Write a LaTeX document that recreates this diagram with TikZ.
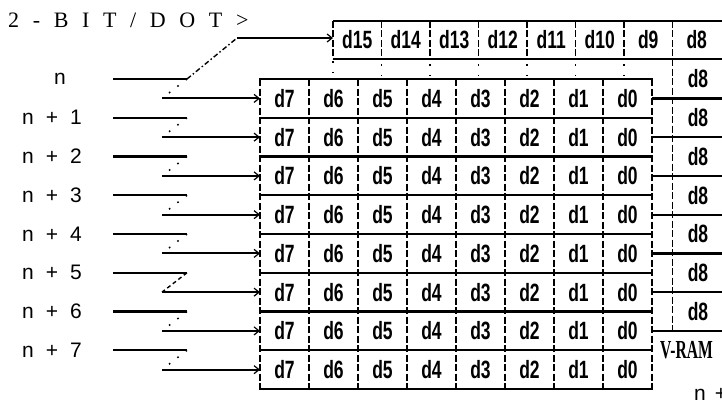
\documentclass[tikz,border=0pt]{standalone}
\usepackage{fontspec}
\setmainfont{Liberation Sans}
\newfontfamily\cellfont[FakeStretch=0.7]{Liberation Sans}
\newfontfamily\titlefont[LetterSpace=62]{Liberation Serif}
\newfontfamily\vramfont[FakeStretch=0.6]{Liberation Serif}
\usetikzlibrary{arrows.meta}
\begin{document}
\begin{tikzpicture}[x=1pt,y=-1pt,
  hline/.style={line width=2.2pt},
  divline/.style={line width=1.3pt, dash pattern=on 7pt off 2.5pt},
  conn/.style={line width=2.2pt},
  arr/.style={line width=2pt,-{Straight Barb[length=5pt,width=8pt,line width=1.2pt]}},
  diag/.style={line width=1.5pt, dash pattern=on 1.6pt off 9pt},
  diagvis/.style={line width=1.4pt, dash pattern=on 4pt off 3pt},
  cell/.style={font=\cellfont\bfseries\fontsize{25}{25}\selectfont, inner sep=0pt},
  lbl/.style={font=\fontsize{21}{21}\selectfont, inner sep=0pt},
]
\useasboundingbox (0,0) rectangle (722,404);
\clip (0,0) rectangle (722,404);

% title
\node[font=\titlefont\fontsize{22}{22}\selectfont, anchor=west, inner sep=0pt] (title) at (8,20) {2-BIT/DOT>};

% ---- upper box d15 .. d8
\draw[hline] (333,21) -- (722,21);
\draw[hline] (333,59) -- (722,59);
\draw[divline] (333,21) -- (333,59);
\draw[diag] (333,61) -- (333,79);
\foreach \i in {1,...,6} {
  \draw[divline] (333+48.5*\i,21) -- (333+48.5*\i,59);
  \draw[diag] (333+48.5*\i,64) -- (333+48.5*\i,76);
}
\draw[divline] (672.5,21) -- (672.5,331);
\foreach \c in {0,...,7} {
  \pgfmathtruncatemacro\b{15-\c}
  \node[cell] (top\c) at (357.25+48.5*\c,40) {d\b};
}

% ---- main table
\foreach \r in {0,...,8} {
  \draw[hline] (259,79+38.75*\r) -- (653,79+38.75*\r);
}
\draw[divline] (260,79) -- (260,389);
\draw[divline] (652,79) -- (652,389);
\foreach \c in {1,...,7} {
  \draw[divline] (260+49*\c,79) -- (260+49*\c,389);
}
\foreach \r in {0,...,7} {
  \foreach \c in {0,...,7} {
    \pgfmathtruncatemacro\b{7-\c}
    \node[cell] (cell\r-\c) at (284.5+49*\c,98.4+38.75*\r) {d\b};
  }
}

% ---- right column d8
\foreach \r in {0,...,6} {
  \draw[hline] (652,98.4+38.75*\r) -- (722,98.4+38.75*\r);
}
\node[cell] (rd0) at (698,78.7) {d8};
\foreach \r in {1,...,6} {
  \node[cell] (rd\r) at (698,79+38.75*\r) {d8};
}
\node[font=\vramfont\bfseries\fontsize{26}{26}\selectfont, anchor=west, inner sep=0pt] (vram) at (660,350) {V-RAM};
\node[lbl, anchor=west] (nplus) at (694,394) {n\hspace{9pt}+};

% ---- address labels and connectors
\node[lbl] (lab0) at (60,79) {n};
\foreach \k in {1,...,7} {
  \node[lbl, anchor=west] (lab\k) at (22,79+38.75*\k) {n\hspace{12pt}+\hspace{12pt}\k};
}
\foreach \k in {0,...,7} {
  \coordinate (Lw\k) at (113,79+38.75*\k);
  \coordinate (Le\k) at (187,79+38.75*\k);
  \coordinate (As\k) at (162,98.4+38.75*\k);
  \coordinate (Ae\k) at (260,98.4+38.75*\k);
  \draw[conn] (Lw\k) -- (Le\k);
  \ifnum\k=5
    \draw[diagvis] (Le\k) -- (As\k);
  \else
    \draw[diag] (Le\k) -- (As\k);
  \fi
  \draw[arr] (As\k) -- (Ae\k);
}
\coordinate (Tb) at (237,38);
\coordinate (Te) at (333,38);
\draw[line width=1.4pt, dash pattern=on 5pt off 2.5pt on 1.5pt off 2.5pt] (Le0) -- (Tb);
\draw[arr] (Tb) -- (Te);
\end{tikzpicture}
\end{document}
